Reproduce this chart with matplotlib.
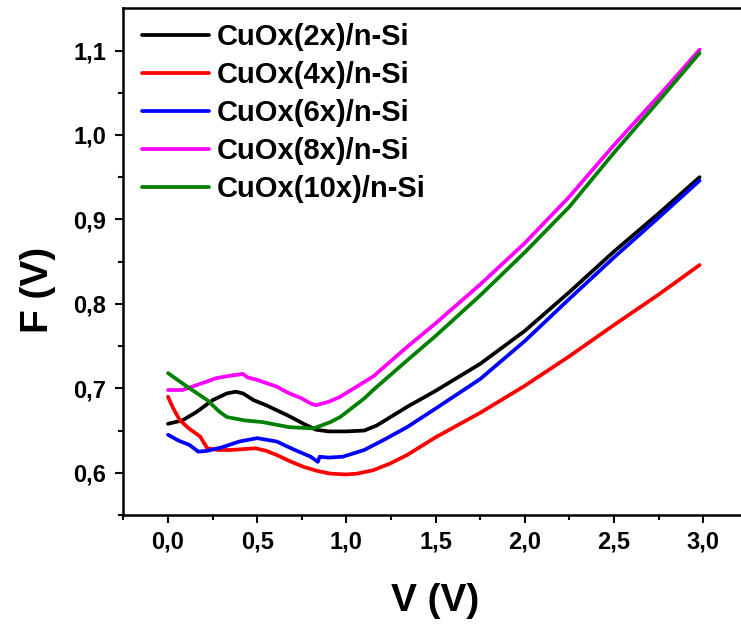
import matplotlib
matplotlib.use('Agg')
import matplotlib.pyplot as plt

# barrier height F(V) vs applied voltage for the CuOx/n-Si diodes
v_2x = [0, 0.08, 0.16, 0.25, 0.33, 0.38, 0.42, 0.48, 0.55, 0.61, 0.68, 0.76, 0.83, 0.9, 1.0, 1.1, 1.17, 1.34, 1.5, 1.75, 2.0, 2.25, 2.5, 2.75, 2.98]
f_2x = [0.658, 0.662, 0.672, 0.686, 0.694, 0.696, 0.694, 0.686, 0.680, 0.674, 0.667, 0.658, 0.651, 0.649, 0.649, 0.650, 0.656, 0.678, 0.697, 0.729, 0.768, 0.814, 0.862, 0.907, 0.950]

v_4x = [0, 0.03, 0.067, 0.12, 0.18, 0.22, 0.28, 0.35, 0.42, 0.49, 0.55, 0.61, 0.68, 0.76, 0.84, 0.91, 1.0, 1.06, 1.15, 1.245, 1.34, 1.5, 1.75, 2.0, 2.25, 2.5, 2.75, 2.98]
f_4x = [0.690, 0.676, 0.662, 0.652, 0.643, 0.629, 0.627, 0.627, 0.628, 0.629, 0.626, 0.621, 0.614, 0.607, 0.602, 0.599, 0.598, 0.599, 0.603, 0.611, 0.621, 0.642, 0.671, 0.703, 0.738, 0.775, 0.811, 0.846]

v_6x = [0, 0.06, 0.12, 0.17, 0.22, 0.3, 0.4, 0.5, 0.61, 0.7, 0.8, 0.84, 0.85, 0.9, 0.98, 1.1, 1.21, 1.34, 1.5, 1.75, 2.0, 2.25, 2.5, 2.75, 2.98]
f_6x = [0.645, 0.638, 0.633, 0.625, 0.626, 0.630, 0.637, 0.641, 0.637, 0.628, 0.619, 0.613, 0.619, 0.618, 0.619, 0.627, 0.639, 0.654, 0.676, 0.711, 0.756, 0.806, 0.855, 0.902, 0.946]

v_8x = [0, 0.08, 0.15, 0.27, 0.35, 0.42, 0.445, 0.5, 0.61, 0.67, 0.75, 0.8, 0.83, 0.9, 0.965, 1.15, 1.34, 1.5, 1.75, 2.0, 2.25, 2.5, 2.75, 2.98]
f_8x = [0.698, 0.698, 0.703, 0.712, 0.715, 0.717, 0.713, 0.710, 0.702, 0.695, 0.688, 0.682, 0.680, 0.684, 0.690, 0.714, 0.749, 0.777, 0.823, 0.872, 0.927, 0.988, 1.046, 1.101]

v_10x = [0, 0.1, 0.22, 0.29, 0.33, 0.43, 0.53, 0.68, 0.815, 0.91, 0.965, 1.1, 1.15, 1.34, 1.5, 1.75, 2.0, 2.25, 2.5, 2.75, 2.98]
f_10x = [0.718, 0.703, 0.686, 0.672, 0.666, 0.662, 0.660, 0.654, 0.6525, 0.660, 0.666, 0.688, 0.698, 0.733, 0.762, 0.810, 0.861, 0.915, 0.979, 1.040, 1.097]

labels = ['CuOx(2x)/n-Si', 'CuOx(4x)/n-Si', 'CuOx(6x)/n-Si', 'CuOx(8x)/n-Si', 'CuOx(10x)/n-Si']
colours = ['black', '#ff0000', '#0000ff', '#ff00ff', '#008000']

xticks = [0.0, 0.5, 1.0, 1.5, 2.0, 2.5, 3.0]
xtick_labels = ['0,0', '0,5', '1,0', '1,5', '2,0', '2,5', '3,0']
yticks = [0.6, 0.7, 0.8, 0.9, 1.0, 1.1]
ytick_labels = ['0,6', '0,7', '0,8', '0,9', '1,0', '1,1']

plt.rcParams['font.family'] = 'Liberation Sans'
plt.rcParams['font.weight'] = 'bold'

fig = plt.figure(figsize=(7.41, 6.25), dpi=100)
ax = fig.add_axes([0.1656, 0.176, 0.8435, 0.8107])

series = [(v_2x, f_2x), (v_4x, f_4x), (v_6x, f_6x), (v_8x, f_8x), (v_10x, f_10x)]
for (v, f), lab, c in zip(series, labels, colours):
    ax.plot(v, f, color=c, lw=2.7, label=lab, solid_capstyle='round', solid_joinstyle='round')

ax.set_xlim(-0.254, 3.25)
ax.set_ylim(0.55, 1.15)
ax.set_xticks(xticks)
ax.set_xticklabels(xtick_labels)
ax.set_yticks(yticks)
ax.set_yticklabels(ytick_labels)
ax.set_xticks([-0.25, 0.25, 0.75, 1.25, 1.75, 2.25, 2.75], minor=True)
ax.set_yticks([0.55, 0.65, 0.75, 0.85, 0.95, 1.05], minor=True)

for s in ax.spines.values():
    s.set_linewidth(1.8)
ax.tick_params(which='both', direction='out', width=1.5, labelsize=17)
ax.tick_params(which='major', length=6)
ax.tick_params(which='minor', length=3.5)
ax.tick_params(axis='x', pad=5)
ax.tick_params(axis='y', pad=6)

ax.set_xlabel('V (V)', fontsize=28, fontweight='bold')
ax.set_ylabel('F (V)', fontsize=28, fontweight='bold')
ax.xaxis.set_label_coords(0.5, -0.135)
ax.yaxis.set_label_coords(-0.107, 0.444)

ax.legend(loc='upper left', bbox_to_anchor=(0.191, 0.963), bbox_transform=fig.transFigure,
          frameon=False, fontsize=21, handlelength=2.3, handletextpad=0.28,
          labelspacing=0.34, borderpad=0, borderaxespad=0)

fig.savefig('out.png', dpi=100)
